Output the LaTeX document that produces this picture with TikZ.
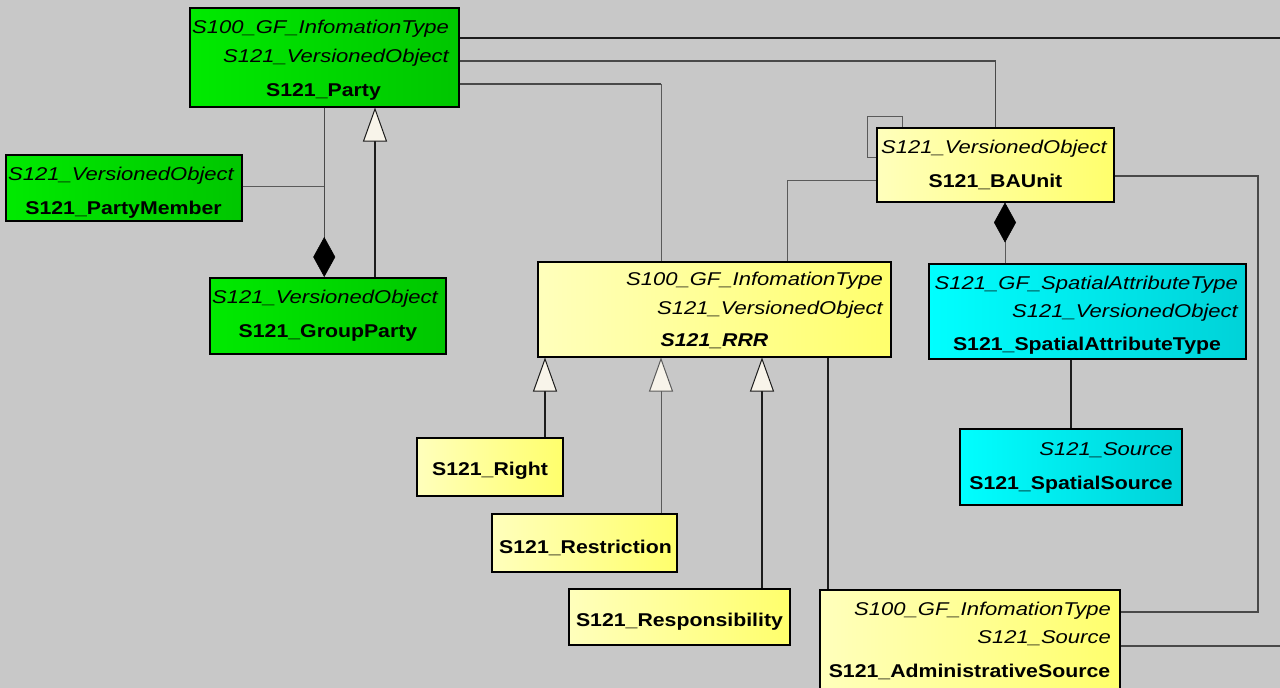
\documentclass[tikz,border=0pt]{standalone}
\usepackage{fontspec}
\setmainfont[FakeStretch=1.15, ItalicFeatures={FakeStretch=1.19}]{Liberation Sans}
\usetikzlibrary{arrows.meta}

\newcommand{\umlsize}{\fontsize{18.5}{22}\selectfont}

\definecolor{canvas}{HTML}{C8C8C8}
\definecolor{grnL}{HTML}{00EA00}
\definecolor{grnR}{HTML}{00C600}
\definecolor{ylwL}{HTML}{FFFFBC}
\definecolor{ylwR}{HTML}{FFFF6C}
\definecolor{cynL}{HTML}{00FFFF}
\definecolor{cynR}{HTML}{00D2D8}
\definecolor{tipfill}{HTML}{F8F4EA}
\definecolor{wire}{HTML}{1C1C1C}
\definecolor{wiregray}{HTML}{5A5A5A}

\tikzset{
  umlbox/.style={draw=black, line width=1.5pt, inner sep=0pt, anchor=north west},
  green class/.style={umlbox, left color=grnL, right color=grnR},
  yellow class/.style={umlbox, left color=ylwL, right color=ylwR},
  cyan class/.style={umlbox, left color=cynL, right color=cynR},
  stereo/.style={font=\umlsize\itshape, inner sep=0pt, anchor=base east},
  cname/.style={font=\umlsize\bfseries, inner sep=0pt, anchor=base},
  strong/.style={draw=wire, line width=2pt},
  medium/.style={draw=wire!80!white, line width=1.4pt},
  weak/.style={draw=wiregray, line width=1pt},
  gen/.style={-{Triangle[length=34pt,width=24pt,fill=tipfill,line width=1pt]}},
  comp/.style={-{Diamond[length=40pt,width=22pt,color=black,fill=black,line width=0.5pt]}}
}

\begin{document}
\begin{tikzpicture}[x=1pt, y=-1pt]
  \fill[canvas] (0,0) rectangle (1280,688);
  \clip (0,0) rectangle (1280,688);

  % classes
  \node[green class, minimum width=269, minimum height=99] (party) at (189,7) {};
  \node[green class, minimum width=236, minimum height=66] (member) at (5,154) {};
  \node[green class, minimum width=236, minimum height=76] (grp) at (209,277) {};
  \node[yellow class, minimum width=353, minimum height=95] (rrr) at (537,261) {};
  \node[yellow class, minimum width=237, minimum height=74] (baunit) at (876,127) {};
  \node[cyan class, minimum width=317, minimum height=95] (spat) at (928,263) {};
  \node[cyan class, minimum width=222, minimum height=76] (ssrc) at (959,428) {};
  \node[yellow class, minimum width=146, minimum height=58] (right) at (416,437) {};
  \node[yellow class, minimum width=185, minimum height=58] (restr) at (491,513) {};
  \node[yellow class, minimum width=221, minimum height=56] (resp) at (568,588) {};
  \node[yellow class, minimum width=300, minimum height=120] (admin) at (819,589) {};

  \coordinate (edgeA) at (1280,38);
  \coordinate (edgeB) at (1280,646);
  \coordinate (bendP) at (661,84);

  % associations
  \draw[strong] (party.east |- edgeA) -- (edgeA);
  \draw[medium] (party.east |- 0,61) -| (baunit.north);
  \draw[medium] (party.east |- bendP) -- (bendP);
  \draw[weak] (bendP) -- (bendP |- rrr.north);
  \draw[medium, comp] (party.south) -- (party.south |- grp.north);
  \draw[weak] (member.east |- 0,186) -- (party.south |- 0,186);
  \draw[weak] (902,0 |- baunit.north) |- (867,116) |- (baunit.west |- 0,157);
  \draw[weak] (baunit.west |- 0,180) -| (787,0 |- rrr.north);
  \draw[weak, comp] (1005,0 |- spat.north) -- (1005,0 |- baunit.south);
  \draw[medium] (baunit.east |- 0,176) -| (1258,612) -- (admin.east |- 0,612);
  \draw[strong] (ssrc.north) -- (ssrc.north |- spat.south);
  \draw[strong] (828,0 |- admin.north) -- (828,0 |- rrr.south);
  \draw[medium] (admin.east |- edgeB) -- (edgeB);

  % generalizations
  \draw[strong, gen] (375,0 |- grp.north) -- (375,0 |- party.south);
  \draw[strong, gen] (545,0 |- right.north) -- (545,0 |- rrr.south);
  \draw[weak, gen] (661,0 |- restr.north) -- (661,0 |- rrr.south);
  \draw[strong, gen] (762,0 |- resp.north) -- (762,0 |- rrr.south);

  % texts
  \node[stereo] (party-s1) at (449,34) {S100\_GF\_InfomationType};
  \node[stereo] (party-s2) at (449,62) {S121\_VersionedObject};
  \node[cname] (party-n) at (323.5,96) {S121\_Party};

  \node[stereo, anchor=base] (member-s) at (121,180) {S121\_VersionedObject};
  \node[cname] (member-n) at (123.5,214) {S121\_PartyMember};

  \node[stereo] (grp-s) at (438,303) {S121\_VersionedObject};
  \node[cname] (grp-n) at (328,337) {S121\_GroupParty};

  \node[stereo] (rrr-s1) at (883,285) {S100\_GF\_InfomationType};
  \node[stereo] (rrr-s2) at (883,314) {S121\_VersionedObject};
  \node[cname, font=\umlsize\bfseries\itshape] (rrr-n) at (714.5,346) {S121\_RRR};

  \node[stereo] (baunit-s) at (1107,153) {S121\_VersionedObject};
  \node[cname] (baunit-n) at (995.5,187) {S121\_BAUnit};

  \node[stereo] (spat-s1) at (1238,289) {S121\_GF\_SpatialAttributeType};
  \node[stereo] (spat-s2) at (1238,317) {S121\_VersionedObject};
  \node[cname] (spat-n) at (1087,350) {S121\_SpatialAttributeType};

  \node[stereo] (ssrc-s) at (1173,455) {S121\_Source};
  \node[cname] (ssrc-n) at (1071,489) {S121\_SpatialSource};

  \node[cname] (right-n) at (490,475) {S121\_Right};
  \node[cname] (restr-n) at (585.5,553) {S121\_Restriction};
  \node[cname] (resp-n) at (679.5,626) {S121\_Responsibility};

  \node[stereo] (admin-s1) at (1111,615) {S100\_GF\_InfomationType};
  \node[stereo] (admin-s2) at (1111,643) {S121\_Source};
  \node[cname] (admin-n) at (969.5,677) {S121\_AdministrativeSource};
\end{tikzpicture}
\end{document}
